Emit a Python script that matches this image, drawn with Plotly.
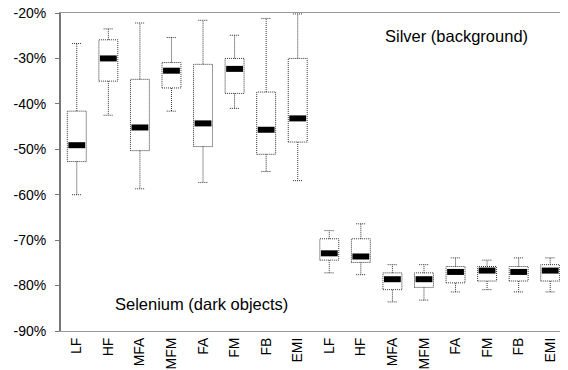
import plotly.graph_objects as go

# ---- data ----
group_labels = ["LF", "HF", "MFA", "MFM", "FA", "FM", "FB", "EMI"]

silver_hi = [-26.7, -23.5, -22.2, -25.4, -21.6, -24.9, -21.2, -20.2]
silver_q3 = [-41.6, -25.9, -34.6, -30.9, -31.3, -30.0, -37.4, -30.0]
silver_med = [-49.1, -30.0, -45.2, -32.7, -44.3, -32.3, -45.7, -43.2]
silver_q1 = [-52.7, -35.0, -50.3, -36.5, -49.4, -37.7, -51.1, -48.4]
silver_lo = [-60.0, -42.5, -58.7, -41.6, -57.3, -41.0, -54.9, -56.9]

selenium_hi = [-67.9, -66.4, -75.4, -75.4, -73.9, -74.4, -73.9, -73.9]
selenium_q3 = [-69.7, -69.7, -77.2, -77.2, -75.8, -75.8, -75.8, -75.4]
selenium_med = [-72.9, -73.6, -78.6, -78.6, -77.0, -76.7, -77.0, -76.7]
selenium_q1 = [-74.4, -74.9, -80.9, -80.4, -79.4, -79.0, -79.0, -79.0]
selenium_lo = [-77.2, -77.6, -83.6, -83.2, -81.4, -80.9, -81.4, -81.4]

y_tickvals = [-20, -30, -40, -50, -60, -70, -80, -90]
y_ticktext = ["-20%", "-30%", "-40%", "-50%", "-60%", "-70%", "-80%", "-90%"]

# ---- assemble ----
labels = group_labels + group_labels
hi = silver_hi + selenium_hi
q3 = silver_q3 + selenium_q3
med = silver_med + selenium_med
q1 = silver_q1 + selenium_q1
lo = silver_lo + selenium_lo
pos = list(range(len(labels)))

half_box = 0.3
half_cap = 0.15

bx, by = [], []
for x, a, b in zip(pos, q1, q3):
    bx += [x - half_box, x + half_box, x + half_box, x - half_box, x - half_box, None]
    by += [a, a, b, b, a, None]

wx, wy = [], []
for x, a, b, l, h in zip(pos, q1, q3, lo, hi):
    wx += [x, x, None, x, x, None]
    wy += [b, h, None, a, l, None]
    wx += [x - half_cap, x + half_cap, None, x - half_cap, x + half_cap, None]
    wy += [h, h, None, l, l, None]

fig = go.Figure()
fig.add_trace(go.Scatter(x=bx, y=by, mode="lines",
                         line=dict(color="#333333", width=1, dash="1px,1px"),
                         hoverinfo="skip", showlegend=False))
fig.add_trace(go.Scatter(x=wx, y=wy, mode="lines",
                         line=dict(color="#333333", width=1, dash="1px,1px"),
                         hoverinfo="skip", showlegend=False))
fig.add_trace(go.Scatter(x=pos, y=med, mode="markers",
                         marker=dict(symbol="line-ew", size=12,
                                     line=dict(color="black", width=6)),
                         showlegend=False))

font_family = "Arial, Liberation Sans, sans-serif"

fig.add_annotation(text="Silver (background)", xref="paper", yref="paper",
                   x=0.638, y=0.928, xanchor="left", yanchor="middle",
                   showarrow=False, font=dict(size=16.5, color="black", family=font_family))
fig.add_annotation(text="Selenium (dark objects)", xref="paper", yref="paper",
                   x=0.103, y=0.085, xanchor="left", yanchor="middle",
                   showarrow=False, font=dict(size=16.5, color="black", family=font_family))

fig.update_layout(
    width=568, height=370,
    margin=dict(l=53, r=10, t=5, b=47),
    paper_bgcolor="white", plot_bgcolor="white",
    font=dict(family=font_family, color="black", size=14),
    showlegend=False,
    xaxis=dict(
        range=[-0.5, len(labels) - 0.5],
        tickmode="array", tickvals=pos, ticktext=labels,
        tickangle=-90, ticks="", showgrid=False, zeroline=False,
        showline=True, linecolor="#999999", linewidth=1, mirror=True,
        automargin=False, tickfont=dict(size=14), ticklabeloverflow="allow",
    ),
    yaxis=dict(
        range=[-90, -20],
        tickmode="array", tickvals=y_tickvals, ticktext=y_ticktext,
        ticks="outside", ticklen=4, tickcolor="#777777",
        showgrid=False, zeroline=False,
        showline=True, linecolor="#777777", linewidth=2,
        automargin=False, tickfont=dict(size=14), ticklabelstandoff=6,
        ticklabeloverflow="allow",
    ),
)

fig.write_html("out.html")
